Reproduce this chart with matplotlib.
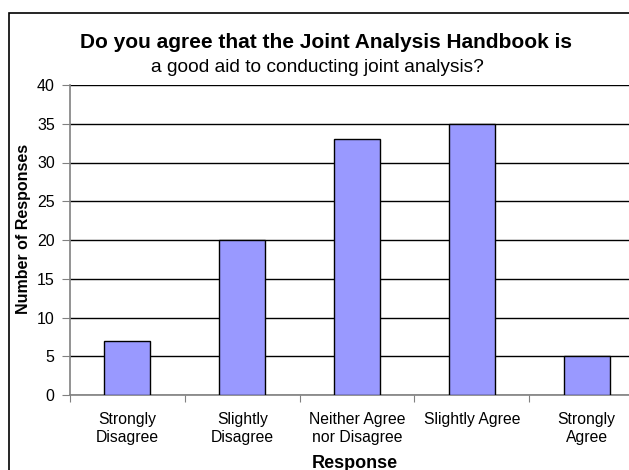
import matplotlib
matplotlib.use("Agg")
from matplotlib import pyplot as plt
from matplotlib.patches import Rectangle

plt.rcParams['font.family'] = ['Liberation Sans', 'DejaVu Sans']

responses = ["Strongly\nDisagree", "Slightly\nDisagree", "Neither Agree\nnor Disagree",
             "Slightly Agree", "Strongly\nAgree"]
counts = [7, 20, 33, 35, 5]
yticks = [0, 5, 10, 15, 20, 25, 30, 35, 40]

fig = plt.figure(figsize=(6.29, 4.70), dpi=100)
ax = fig.add_axes([70/629, 1-395/470, 574/629, 310/470])

xs = [i for i, _ in enumerate(counts)]
ax.bar(xs, counts, width=0.4, color='#9999ff', edgecolor='black', linewidth=1, zorder=3)

ax.set_xlim(-0.5, len(counts)-0.5)
ax.set_ylim(0, 40)
ax.set_yticks(yticks)
ax.yaxis.grid(True, color='black', linewidth=1)
ax.set_axisbelow(True)

# category ticks sit between the bars, labels under the bars
ax.set_xticks([i-0.5 for i in xs])
ax.set_xticklabels([])
ax.set_xticks(xs, minor=True)
ax.set_xticklabels(responses, minor=True, fontsize=11.3, linespacing=1.3)
ax.tick_params(axis='x', which='minor', length=0, pad=12)
ax.tick_params(axis='x', which='major', length=5, color='#808080', direction='out')
ax.tick_params(axis='y', length=6, color='#808080', labelsize=11.5, pad=5)

for s in ['top', 'right']:
    ax.spines[s].set_visible(False)
ax.spines['left'].set_color('#808080')
ax.spines['bottom'].set_color('#808080')
ax.spines['left'].set_linewidth(1.2)
ax.spines['bottom'].set_linewidth(1.2)

fig.text(24/629, 1-229/470, "Number of Responses", rotation=90, fontsize=11.5,
         fontweight='bold', ha='center', va='center')
fig.text(355/629, 1-463/470, "Response", fontsize=13, fontweight='bold',
         ha='center', va='center')

fig.text(326/629, 1-43/470, "Do you agree that the Joint Analysis Handbook is",
         fontsize=15, fontweight='bold', ha='center', va='center')
fig.text(317/629, 1-67/470, "a good aid to conducting joint analysis?",
         fontsize=13.8, ha='center', va='center')

# chart area border (cropped at right and bottom)
fig.patches.append(Rectangle((9/629, -0.1), 1.2, 1.1-13/470, transform=fig.transFigure,
                             fill=False, edgecolor='black', linewidth=1.2))

plt.savefig("out.png", dpi=100)
